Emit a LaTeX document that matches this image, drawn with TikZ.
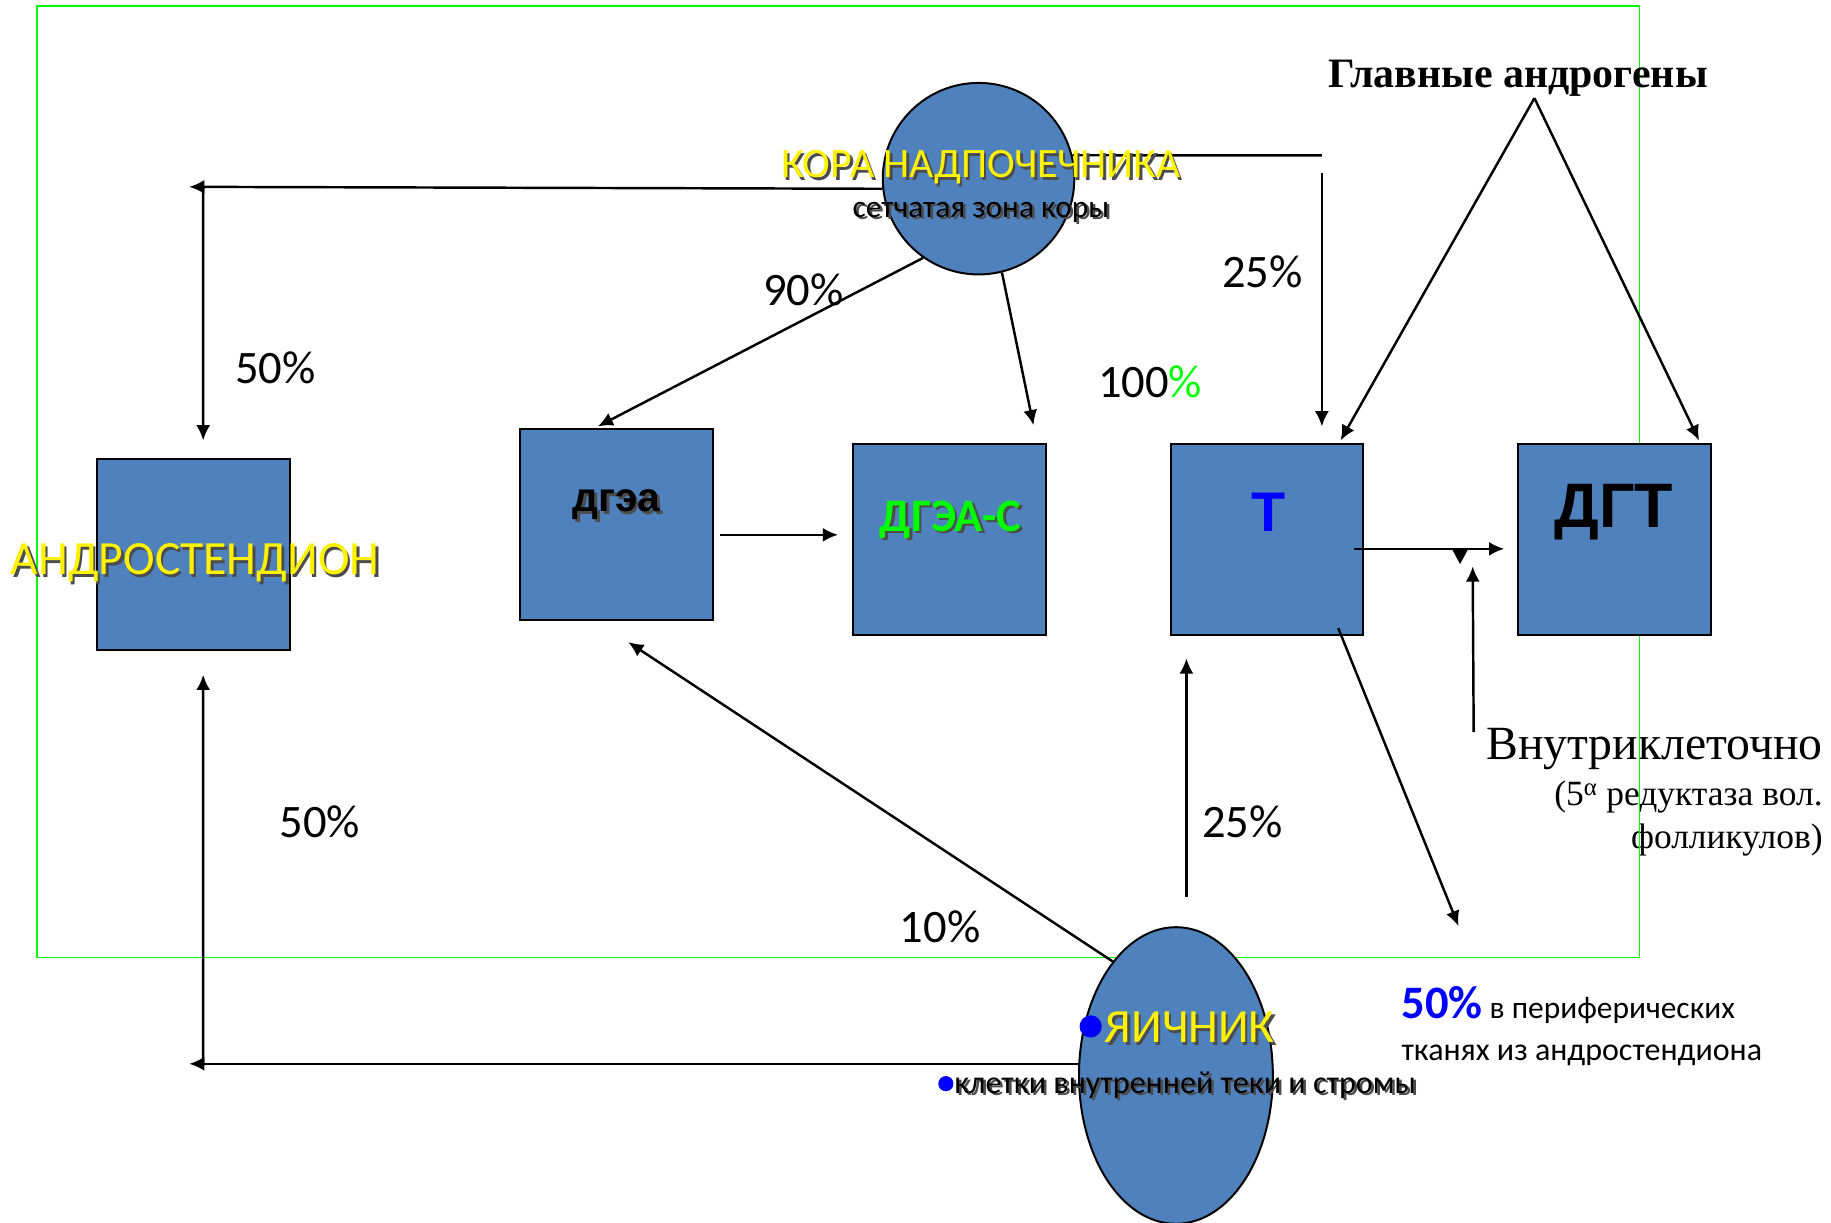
\documentclass[tikz,border=0pt]{standalone}
\usepackage{fontspec}
\setmainfont{Carlito}
\newfontfamily\serifF{Liberation Serif}
\newfontfamily\arialF{Liberation Sans}
\usetikzlibrary{arrows.meta,calc,shapes.geometric}
\definecolor{boxblue}{HTML}{4F81BD}
\definecolor{brightgreen}{HTML}{00FF00}
\newcommand\shtext[2]{\makebox[0pt][l]{\kern2.2pt\raisebox{-2.2pt}{\color{black!70}#2}}{\color{#1}#2}}
\newcommand\fs[1]{\fontsize{#1}{#1}\selectfont}
\begin{document}
\begin{tikzpicture}[x=1bp,y=-1bp,
  stepbox/.style={draw=black,line width=1.7bp,fill=boxblue,minimum width=165bp,minimum height=164bp,inner sep=0pt},
  arr/.style={line width=2.1bp,-{Latex[length=13bp,width=12bp]}},
  plain/.style={line width=2.1bp},
  lbl/.style={anchor=base,inner sep=0pt,font=\fs{40}},
  txt/.style={inner sep=0pt}]
\path[use as bounding box] (0,0) rectangle (1568,1047);

% right side serif texts
\node[txt,anchor=base east,font=\serifF\fs{41}] (intra) at (1561,650) {Внутриклеточно};
\node[txt,anchor=base east,font=\serifF\fs{30.5}] (red1) at (1561,690) {(5\textsuperscript{α} редуктаза вол.};
\node[txt,anchor=base east,font=\serifF\fs{30.5}] (red2) at (1561,727) {фолликулов)};

% green frame
\draw[brightgreen,line width=1.6bp] (32,5) rectangle (1404,820);

% boxes
\node[stepbox] (andr) at (165.5,475) {};
\node[stepbox] (dgea) at (528,449) {};
\node[stepbox] (dgeac) at (813,462) {};
\node[stepbox] (T) at (1085,462) {};
\node[stepbox] (dgt) at (1382.5,462) {};

% adrenal cortex circle
\node[circle,draw=black,line width=1.7bp,fill=boxblue,minimum size=164bp,inner sep=0pt] (kora) at (838,153) {};
% ovary ellipse
\node[ellipse,draw=black,line width=1.7bp,fill=boxblue,minimum width=166bp,minimum height=254bp,inner sep=0pt] (ov) at (1007,921) {};

% coordinates for free ends
\coordinate (kL) at (162,160);
\coordinate (kLd) at (174,160);
\coordinate (kR) at (1132,133);
\coordinate (kRd) at (1132,148);
\coordinate (ovL) at (162,911);
\coordinate (ovLu) at (174,911);
\coordinate (ovUp) at (1016,768);
\coordinate (apex) at (1314,84);
\coordinate (periph) at (1249,793);
\coordinate (intraUp) at (1262,627);

% connectors from the cortex
\draw[arr] (kora.186) -- (kL);
\draw[arr] (kLd) -- ($(andr.north)+(8.5,-15)$);
\draw[plain] (kora.14) -- (kR);
\draw[arr] (kRd) -- ($(T.north)+(47,-14)$);
\draw[arr] (kora.235) -- ($(dgea.north)+(-16,-1)$);
\draw[arr] (kora.284) -- ($(dgeac.north)+(72,-15)$);

% between boxes
\draw[arr] ($(dgea.east)+(5,9)$) -- ($(dgeac.west)+(-12,-4)$);
\draw[arr] ($(T.east)+(-9,8)$) -- ($(dgt.west)+(-11,8)$);
\fill ($(T.east)+(75.5,9)$) -- ($(T.east)+(88.5,9)$) -- ($(T.east)+(82,21)$) -- cycle;
\draw[arr] (intraUp) -- ($(dgt.west)+(-38,23)$);

% main androgens
\draw[arr] (apex) -- ($(T.north)+(63,-2)$);
\draw[arr] (apex) -- ($(dgt.north)+(72.5,-2)$);

% T to periphery
\draw[arr] ($(T.south)+(61,-7)$) -- (periph);

% from ovary
\draw[arr] (ovUp) -- ($(T.south)+(-69,19)$);
\draw[arr] (ov.119) -- ($(dgea.south)+(10,18)$);
\draw[arr] ($(ov.west)+(1,-10)$) -- (ovL);
\draw[arr] (ovLu) -- ($(andr.south)+(8.5,20)$);

% texts
\node[lbl] (p50a) at (236,328) {50\%};
\node[lbl] (p90) at (688,262) {90\%};
\node[lbl] (p25a) at (1081,246) {25\%};
\node[lbl] (p100) at (985,340) {100{\color{brightgreen}\%}};
\node[lbl] (p50b) at (274,717) {50\%};
\node[lbl] (p10) at (805,807) {10\%};
\node[lbl] (p25b) at (1064,717) {25\%};

\node[txt,anchor=base,font=\fs{36}] (koraT) at (840,152) {\shtext{yellow}{КОРА НАДПОЧЕЧНИКА}};
\node[txt,anchor=base,font=\fs{27}] (koraS) at (840,186) {\shtext{black}{сетчатая зона коры}};
\node[txt,anchor=base,font=\fs{41}] (andrT) at (167,492) {\shtext{yellow}{АНДРОСТЕНДИОН}};
\node[txt,anchor=base,font=\arialF\bfseries\fs{35}] (dgeaT) at (528,438) {\shtext{black}{дгэа}};
\node[txt,anchor=base,font=\bfseries\fs{40}] (dgeacT) at (814,455) {\shtext{brightgreen}{ДГЭА-С}};
\node[txt,anchor=base,font=\arialF\bfseries\fs{48}] (TT) at (1086,455) {\color{blue}Т};
\node[txt,anchor=base,font=\arialF\bfseries\fs{54}] (dgtT) at (1382,452) {ДГТ};
\node[txt,anchor=base,font=\serifF\bfseries\fs{36}] (main) at (1300,75) {Главные андрогены};

\fill[blue] (934,879) circle (9.5);
\node[txt,anchor=base west,font=\fs{41}] (ovT) at (946,893) {\shtext{yellow}{ЯИЧНИК}};
\fill[blue] (810,928) circle (6.5);
\node[txt,anchor=base west,font=\fs{27.6}] (ovS) at (817,936) {\shtext{black}{клетки внутренней теки и стромы}};

\node[txt,anchor=base west,font=\fs{27}] (per1) at (1200,872) {{\bfseries\fs{40}\color{blue}50\%} в периферических};
\node[txt,anchor=base west,font=\fs{27.5}] (per2) at (1200,908) {тканях из андростендиона};
\end{tikzpicture}
\end{document}
